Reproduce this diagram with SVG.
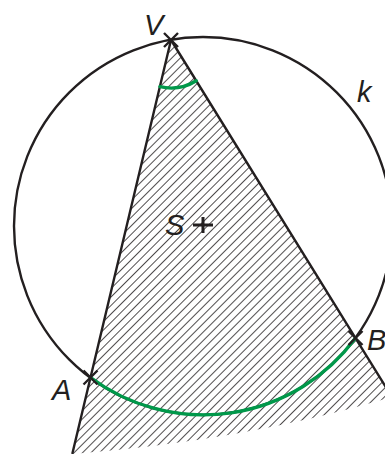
<svg xmlns="http://www.w3.org/2000/svg" width="385" height="454" viewBox="0 0 385 454">
  <defs>
    <pattern id="hatch" patternUnits="userSpaceOnUse" width="6" height="6" patternTransform="rotate(45)">
      <line x1="0" y1="-1" x2="0" y2="7" stroke="#231f20" stroke-width="1.6"/>
    </pattern>
    <style>
      .ln { stroke: #231f20; stroke-width: 2.4; fill: none; stroke-linecap: round; }
      .mk { stroke: #231f20; stroke-width: 2.4; fill: none; }
      .gr { stroke: #00984a; stroke-width: 3.4; fill: none; stroke-linecap: round; }
      .lbl { font-family: "Liberation Sans", Arial, sans-serif; font-style: italic; font-size: 29px; fill: #231f20; }
    </style>
  </defs>
  <rect width="385" height="454" fill="#ffffff"/>

  <g id="region">
    <path d="M171,40 L72.3,454 Q247.8,440.5 392,397 Z" fill="url(#hatch)"/>
  </g>

  <g id="circle-k">
    <circle cx="203" cy="226" r="189" class="ln"/>
    <text class="lbl" x="357" y="102">k</text>
  </g>

  <g id="connectors">
    <line class="ln" x1="171" y1="40" x2="72.5" y2="453"/>
    <line class="ln" x1="171" y1="40" x2="392" y2="397"/>
  </g>

  <g id="angle-marks">
    <path class="gr" d="M159.9,86.7 A48 48 0 0 0 196.3,80.8"/>
    <path class="gr" d="M90.5,377.5 A189 189 0 0 0 355.5,338"/>
  </g>

  <g id="point-V">
    <path class="mk" d="M164,33 L178,47 M178,33 L164,47"/>
    <text class="lbl" x="144" y="35">V</text>
  </g>

  <g id="point-A">
    <path class="mk" d="M83.5,370.5 L97.5,384.5 M97.5,370.5 L83.5,384.5"/>
    <text class="lbl" x="52" y="400">A</text>
  </g>

  <g id="point-B">
    <path class="mk" d="M348.5,331 L362.5,345 M362.5,331 L348.5,345"/>
    <text class="lbl" x="367" y="350">B</text>
  </g>

  <g id="center-S">
    <path d="M193,225 L213,225 M203,217 L203,233" stroke="#231f20" stroke-width="3" fill="none"/>
    <text class="lbl" x="165" y="235">S</text>
  </g>
</svg>
